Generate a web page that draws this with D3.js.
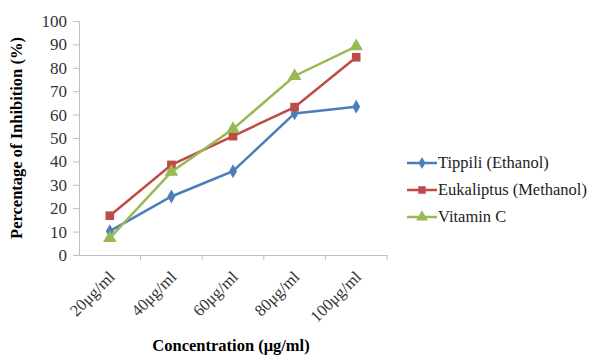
<!DOCTYPE html>
<html><head><meta charset="utf-8">
<script src="https://cdn.jsdelivr.net/npm/d3@7"></script>
<style>body{margin:0;background:#fff}svg{display:block}svg text{font-family:"Liberation Serif","Times New Roman",serif}</style>
</head><body><svg id="c" width="592" height="356"></svg>
<script>
const categories = ["20μg/ml","40μg/ml","60μg/ml","80μg/ml","100μg/ml"];
const tippili = [10.2, 25, 35.8, 60.5, 63.4];
const eukaliptus = [16.8, 38.5, 50.8, 63.2, 84.5];
const vitaminC = [7.2, 35.5, 53.8, 76.5, 89.2];
const seriesNames = ["Tippili (Ethanol)","Eukaliptus (Methanol)","Vitamin C"];
const yTicks = [0,10,20,30,40,50,60,70,80,90,100];

const series = [
  {name: seriesNames[0], values: tippili, color: "#4a7ebb", sym: "diamond"},
  {name: seriesNames[1], values: eukaliptus, color: "#be4b48", sym: "square"},
  {name: seriesNames[2], values: vitaminC, color: "#98b954", sym: "triangle"}
];
const svg = d3.select("#c");
const x = d3.scaleBand().domain(categories).range([79, 387]);
const y = d3.scaleLinear().domain([0,100]).range([255, 21]);

const yAxis = svg.append("g").attr("transform","translate(79,0)")
  .call(d3.axisLeft(y).tickValues(yTicks).tickSize(6).tickPadding(6));
const xAxis = svg.append("g").attr("transform","translate(0,255)")
  .call(d3.axisBottom(x).tickSize(0).tickFormat(""));
yAxis.attr("font-family", null); xAxis.attr("font-family", null);
xAxis.selectAll(".bt").data(categories).enter().append("line")
  .attr("x1", d => x(d) + x.bandwidth()).attr("x2", d => x(d) + x.bandwidth())
  .attr("y1", 0).attr("y2", 5).attr("stroke","#bfbfbf");
[yAxis, xAxis].forEach(a => {
  a.select(".domain").attr("stroke","#bfbfbf");
  a.selectAll(".tick line").attr("stroke","#bfbfbf");
});
yAxis.selectAll("text").attr("font-size", 17).attr("fill","#333");

svg.append("g").selectAll("text").data(categories).enter().append("text")
  .attr("transform", d => `translate(${x(d)+x.bandwidth()/2+6},${278}) rotate(-45)`)
  .attr("text-anchor","end").attr("font-size", 16.5).attr("fill","#333")
  .text(d => d);

const line = d3.line().x((d,i) => x(categories[i]) + x.bandwidth()/2).y(d => y(d));
const symType = {diamond: d3.symbolDiamond, square: d3.symbolSquare, triangle: d3.symbolTriangle};
const symSize = {diamond: 55, square: 75, triangle: 80};
series.forEach(s => {
  svg.append("path").datum(s.values).attr("d", line).attr("fill","none")
    .attr("stroke", s.color).attr("stroke-width", 2.5);
  svg.append("g").selectAll("path").data(s.values).enter().append("path")
    .attr("transform", (d,i) => `translate(${x(categories[i]) + x.bandwidth()/2},${y(d)})`)
    .attr("d", d3.symbol().type(symType[s.sym]).size(symSize[s.sym])).attr("fill", s.color);
});

svg.append("text").attr("transform","translate(22,138) rotate(-90)")
  .attr("text-anchor","middle").attr("font-weight","bold")
  .attr("font-size", 16.5).attr("fill","#000").text("Percentage of Inhibition (%)");
svg.append("text").attr("x", 231).attr("y", 351)
  .attr("text-anchor","middle").attr("font-weight","bold")
  .attr("font-size", 16.5).attr("fill","#000").text("Concentration (μg/ml)");

const lg = svg.append("g");
series.forEach((s, i) => {
  const yy = 163 + i * 27;
  lg.append("line").attr("x1", 407).attr("x2", 437).attr("y1", yy).attr("y2", yy)
    .attr("stroke", s.color).attr("stroke-width", 2.5);
  lg.append("path").attr("transform", `translate(422,${yy})`)
    .attr("d", d3.symbol().type(symType[s.sym]).size(symSize[s.sym]*0.75)).attr("fill", s.color);
  lg.append("text").attr("x", 438).attr("y", yy + 5)
    .attr("font-size", 16.5).attr("fill","#222").text(s.name);
});
</script></body></html>
